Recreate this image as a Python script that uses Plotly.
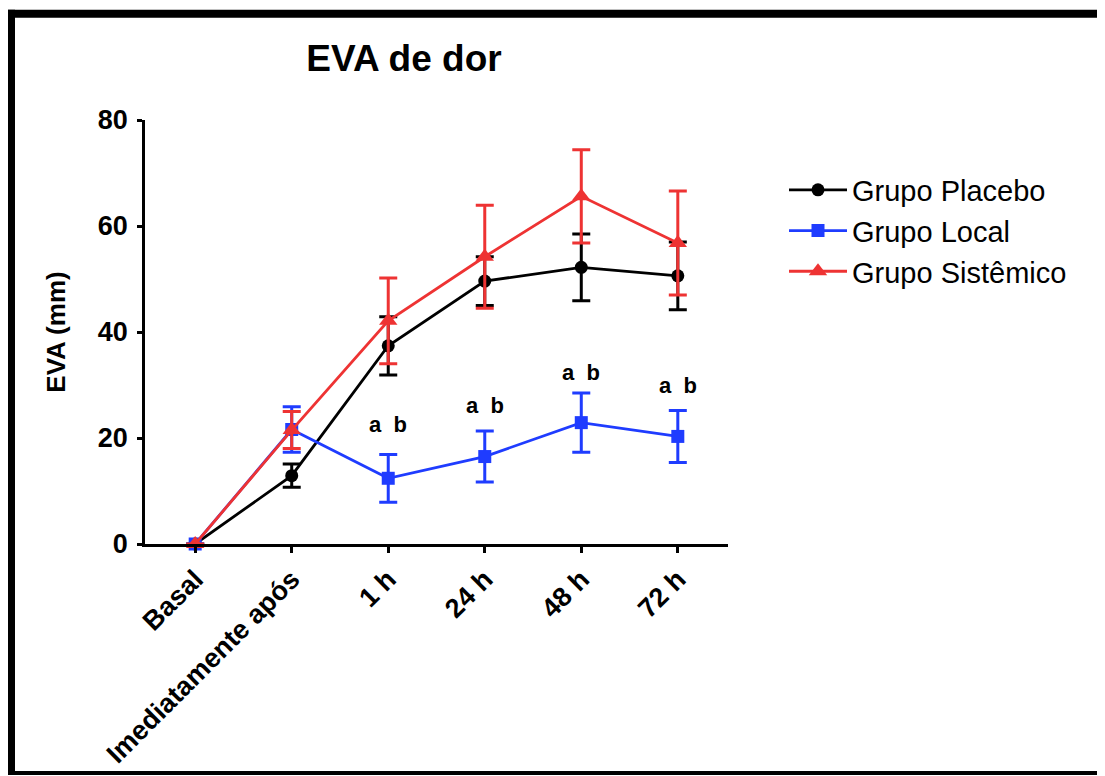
import plotly.graph_objects as go

categories = ["Basal", "Imediatamente após", "1 h", "24 h", "48 h", "72 h"]
x_pos = [0, 1, 2, 3, 4, 5]

placebo = [0, 12.9, 37.4, 49.6, 52.2, 50.6]
placebo_err = [0, 2.2, 5.5, 4.6, 6.3, 6.4]

local = [0, 21.6, 12.4, 16.5, 22.9, 20.3]
local_err = [0, 4.3, 4.5, 4.8, 5.6, 4.9]

sistemico = [0, 21.5, 42.1, 54.2, 65.6, 56.8]
sistemico_err = [0, 3.5, 8.1, 9.7, 8.8, 9.8]

sig_x = [2, 3, 4, 5]
sig_y = [22.5, 26.2, 32.4, 30.0]
sig_text = "<b>a\u00a0\u00a0b</b>"

FONT = "Liberation Sans, Arial, sans-serif"

fig = go.Figure()

def add_series(name, y, err, color, symbol, size):
    fig.add_trace(go.Scatter(
        x=x_pos, y=y, name=name, mode="lines+markers",
        line=dict(color=color, width=2.8),
        marker=dict(color=color, symbol=symbol, size=size),
        error_y=dict(type="data", array=err, visible=True, color=color,
                     thickness=3, width=9),
        cliponaxis=False,
    ))

add_series("Grupo Placebo", placebo, placebo_err, "#000000", "circle", 13)
add_series("Grupo Local", local, local_err, "#1f3cff", "square", 13)
add_series("Grupo Sistêmico", sistemico, sistemico_err, "#ee3333", "triangle-up", 16)

for xi, yi in zip(sig_x, sig_y):
    fig.add_annotation(x=xi, y=yi, text=sig_text, showarrow=False,
                       font=dict(family=FONT, size=22, color="#000000"),
                       xanchor="center", yanchor="middle")

# figure drawn at the page's default 8px offset
W, H = 1097, 768
L, T = 137, 111.5
PW = 583
PH = 425
def px(xp):
    return (xp - L) / PW
def py(yp):
    return (T + PH - yp) / PH

frame = dict(color="#000000", width=8)
fig.add_shape(type="line", xref="paper", yref="paper",
              x0=px(3), x1=px(3), y0=py(768), y1=py(1), line=frame, layer="above")
fig.add_shape(type="line", xref="paper", yref="paper",
              x0=px(-1), x1=px(1097), y0=py(5), y1=py(5), line=frame, layer="above")
fig.add_shape(type="line", xref="paper", yref="paper",
              x0=px(-1), x1=px(1097), y0=py(766), y1=py(766),
              line=dict(color="#000000", width=4), layer="above")

fig.update_layout(
    width=W, height=H,
    margin=dict(l=L, r=W - L - PW, t=T, b=H - T - PH, pad=0, autoexpand=False),
    paper_bgcolor="#ffffff", plot_bgcolor="#ffffff",
    font=dict(family=FONT, color="#000000"),
    title=dict(text="<b>EVA de dor</b>", x=396 / W, xref="container", xanchor="center",
               y=1 - 50 / H, yref="container", yanchor="middle",
               font=dict(family=FONT, size=37, color="#000000")),
    showlegend=True,
    legend=dict(x=px(776), xanchor="left", y=0.895, yanchor="top",
                font=dict(family=FONT, size=29, color="#000000"),
                itemwidth=58, bgcolor="rgba(0,0,0,0)"),
    xaxis=dict(range=[-0.52, 5.52], tickmode="array", tickvals=x_pos,
               ticktext=["<b>%s</b>" % c for c in categories],
               tickangle=-45, tickfont=dict(family=FONT, size=27, color="#000000"),
               showline=True, linecolor="#000000", linewidth=2.5,
               ticks="outside", ticklen=6, tickwidth=2.5, tickcolor="#000000",
               showgrid=False, zeroline=False, fixedrange=True, automargin=False),
    yaxis=dict(range=[0, 80], tickvals=[0, 20, 40, 60, 80],
               ticktext=["<b>%d</b>" % v for v in [0, 20, 40, 60, 80]],
               tickfont=dict(family=FONT, size=27, color="#000000"),
               ticklabelstandoff=4,
               showline=True, linecolor="#000000", linewidth=2.5,
               ticks="outside", ticklen=5, tickwidth=2.5, tickcolor="#000000",
               showgrid=False, zeroline=False, automargin=False,
               title=dict(text="<b>EVA (mm)</b>", standoff=25,
                          font=dict(family=FONT, size=26, color="#000000"))),
)

fig.write_html("out.html")
